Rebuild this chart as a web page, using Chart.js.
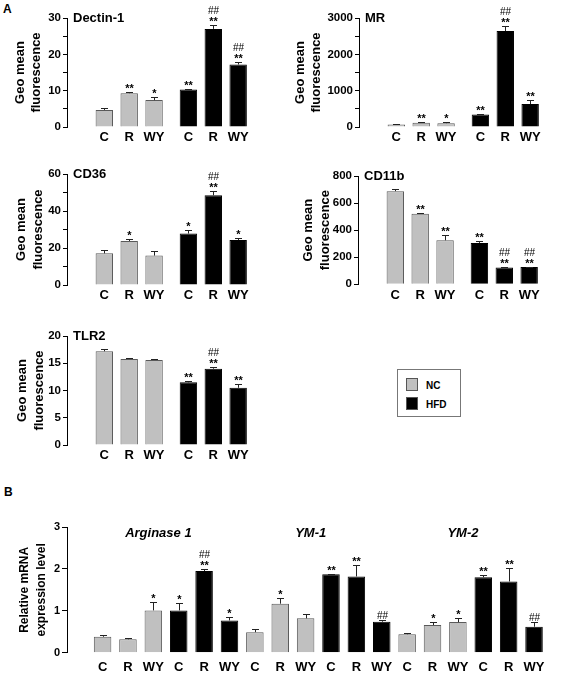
<!DOCTYPE html>
<html>
<head>
<meta charset="utf-8">
<script src="https://cdn.jsdelivr.net/npm/chart.js@4.4.0/dist/chart.umd.min.js"></script>
<style>
  body { margin: 0; background: #fff; }
  #fig { position: relative; width: 563px; height: 676px; font-family: 'Liberation Sans', Arial, sans-serif; }
  #fig canvas { position: absolute; }
  .lbl { position: absolute; font-weight: bold; font-size: 12px; line-height: 12px; }
  #legend { position: absolute; left: 397px; top: 369px; width: 62px; height: 46px; border: 1px solid #777; }
  #legend .sw { position: absolute; left: 8px; width: 10px; height: 11px; border: 1px solid #555; }
  #legend .tx { position: absolute; left: 28px; font-size: 10px; font-weight: bold; line-height: 12px; }
</style>
</head>
<body>
<div id="fig">
  <div class="lbl" style="left:3px;top:3px">A</div>
  <div class="lbl" style="left:4px;top:486px">B</div>
  <canvas id="dectin" width="280" height="150" style="left:0;top:0"></canvas>
  <canvas id="mr" width="280" height="150" style="left:283px;top:0"></canvas>
  <canvas id="cd36" width="280" height="160" style="left:0;top:150px"></canvas>
  <canvas id="cd11b" width="280" height="160" style="left:283px;top:150px"></canvas>
  <canvas id="tlr2" width="280" height="160" style="left:0;top:310px"></canvas>
  <canvas id="mrna" width="563" height="176" style="left:0;top:500px"></canvas>
  <div id="legend"></div>
</div>
<script>
// groups and treatments
const diets = ['NC', 'HFD'];
const treatments = ['C', 'R', 'WY'];
const genes = ['Arginase 1', 'YM-1', 'YM-2'];

// panel A, order: NC C,R,WY then HFD C,R,WY
const dectinMean = [4.7, 9.3, 7.4, 10.3, 27.0, 17.2];
const dectinErr = [0.5, 0.2, 0.8, 0.2, 1.1, 0.8];
const dectinSig = ['', '**', '*', '**', '**', '**'];
const dectinHash = ['', '', '', '', '##', '##'];

const mrMean = [72, 115, 105, 345, 2640, 630];
const mrErr = [10, 15, 20, 10, 150, 110];
const mrSig = ['', '**', '*', '**', '**', '**'];
const mrHash = ['', '', '', '', '##', ''];

const cd36Mean = [17.1, 23.8, 15.9, 27.8, 48.5, 24.3];
const cd36Err = [1.6, 1.0, 2.4, 1.8, 2.5, 1.3];
const cd36Sig = ['', '*', '', '*', '**', '*'];
const cd36Hash = ['', '', '', '', '##', ''];

const cd11bMean = [688, 522, 325, 306, 124, 128];
const cd11bErr = [15, 3, 38, 12, 3, 3];
const cd11bSig = ['', '**', '**', '**', '**', '**'];
const cd11bHash = ['', '', '', '', '##', '##'];

const tlr2Mean = [17.2, 15.8, 15.6, 11.5, 14.0, 10.5];
const tlr2Err = [0.4, 0.15, 0.1, 0.2, 0.4, 0.7];
const tlr2Sig = ['', '', '', '**', '**', '**'];
const tlr2Hash = ['', '', '', '', '##', ''];

// panel B, per gene: NC C,R,WY then HFD C,R,WY
const argMean = [0.38, 0.32, 1.01, 1.01, 1.95, 0.77];
const argErr = [0.04, 0.04, 0.19, 0.17, 0.05, 0.09];
const argSig = ['', '', '*', '*', '**', '*'];
const argHash = ['', '', '', '', '##', ''];

const ym1Mean = [0.49, 1.17, 0.82, 1.87, 1.82, 0.74];
const ym1Err = [0.07, 0.14, 0.11, 0.02, 0.27, 0.04];
const ym1Sig = ['', '*', '', '**', '**', ''];
const ym1Hash = ['', '', '', '', '', '##'];

const ym2Mean = [0.44, 0.66, 0.73, 1.80, 1.70, 0.62];
const ym2Err = [0.02, 0.07, 0.09, 0.06, 0.33, 0.12];
const ym2Sig = ['', '*', '*', '**', '**', ''];
const ym2Hash = ['', '', '', '', '', '##'];

const FONT = "'Liberation Sans', Arial, sans-serif";
Chart.defaults.font.family = FONT;
Chart.defaults.color = '#000';

const GRAY = '#c0c0c0';
const GROUP_GAP = 0.38;

// legend box
const legend = document.getElementById('legend');
diets.forEach((d, i) => {
  legend.innerHTML += '<div class="sw" style="top:' + (8 + i * 19) + 'px;background:' + (i ? '#000' : GRAY) + '"></div>' +
    '<div class="tx" style="top:' + (10 + i * 19) + 'px">' + d + '</div>';
});

// error bars, significance marks and titles
const marks = {
  id: 'marks',
  afterDatasetsDraw(chart, args, o) {
    const ctx = chart.ctx;
    const y = chart.scales.y;
    const bars = chart.getDatasetMeta(0).data;
    ctx.save();
    bars.forEach((bar, i) => {
      const top = Math.round(y.getPixelForValue(o.mean[i] + o.err[i])) + 0.5;
      const cx = Math.round(bar.x) + 0.5;
      ctx.strokeStyle = '#222';
      ctx.lineWidth = 1;
      ctx.beginPath();
      ctx.moveTo(cx, bar.y);
      ctx.lineTo(cx, top);
      ctx.moveTo(cx - 3.5, top);
      ctx.lineTo(cx + 3.5, top);
      ctx.stroke();
      ctx.fillStyle = '#000';
      ctx.textAlign = 'center';
      ctx.textBaseline = 'alphabetic';
      let ty = top - 1;
      if (o.sig[i]) {
        ctx.font = 'bold 11px ' + FONT;
        ctx.fillText(o.sig[i], cx, ty);
        ty -= 11;
      } else {
        ty -= 1;
      }
      if (o.hash[i]) {
        ctx.font = '10px ' + FONT;
        ctx.fillText(o.hash[i], cx, ty);
      }
    });
    if (o.title) {
      ctx.font = 'bold 13px ' + FONT;
      ctx.textAlign = 'left';
      ctx.textBaseline = 'middle';
      ctx.fillText(o.title, chart.chartArea.left + 6, chart.chartArea.top);
    }
    if (o.groupNames) {
      ctx.font = 'italic bold 13px ' + FONT;
      ctx.textAlign = 'center';
      ctx.textBaseline = 'middle';
      o.groupNames.forEach((g, gi) => {
        ctx.fillText(g, chart.scales.x.getPixelForValue(o.groupX[gi]), chart.chartArea.top + 6);
      });
    }
    ctx.restore();
  }
};

function barChart(id, o) {
  return new Chart(document.getElementById(id), {
    type: 'bar',
    data: {
      datasets: [{
        data: o.x.map((x, i) => ({ x: x, y: o.mean[i] })),
        backgroundColor: o.colors,
        borderColor: o.colors.map(c => c === GRAY ? '#5a5a5a' : '#000'),
        borderWidth: 1,
        barPercentage: o.barPct,
        categoryPercentage: 1
      }]
    },
    options: {
      responsive: false,
      animation: false,
      layout: { padding: { left: 0, top: o.top, right: o.right, bottom: 0 } },
      plugins: {
        legend: { display: false },
        tooltip: { enabled: false },
        marks: { mean: o.mean, err: o.err, sig: o.sig, hash: o.hash, title: o.title, groupNames: o.groupNames, groupX: o.groupX }
      },
      scales: {
        x: {
          type: 'linear',
          min: o.xMin,
          max: o.xMax,
          grid: { display: false, drawTicks: false },
          border: { display: false },
          afterBuildTicks: s => { s.ticks = o.x.map(v => ({ value: v })); },
          afterFit: s => { s.height = o.xHeight; },
          ticks: {
            autoSkip: false, maxRotation: 0, padding: o.xPad,
            font: { size: 13, weight: 'bold' },
            callback: (v, i) => o.labels[i]
          }
        },
        y: {
          min: 0,
          max: o.max,
          afterFit: s => { s.width = o.yWidth; },
          border: { display: true, color: '#000', width: 1 },
          grid: { drawOnChartArea: false, drawTicks: true, tickLength: o.tickLen, color: '#000' },
          ticks: {
            stepSize: o.step, padding: 2,
            font: { size: o.tickSize, weight: 'bold' },
            callback: v => (Math.round(v / o.step) % o.labelEvery === 0 ? String(v) : '')
          },
          title: {
            display: true, text: o.yTitle, color: '#000',
            font: { size: o.titleSize, weight: 'bold', lineHeight: o.titleLH },
            padding: { top: o.titlePad, bottom: 0 }
          }
        }
      }
    },
    plugins: [marks]
  });
}

// panel A positions and labels
const xA = [], labelsA = [], colorsA = [];
diets.forEach((d, di) => treatments.forEach((t, ti) => {
  xA.push(di * (treatments.length + GROUP_GAP) + ti);
  labelsA.push(t);
  colorsA.push(di ? '#000' : GRAY);
}));

function panelA(id, title, mean, err, sig, hash, max, step, labelEvery, lay) {
  return barChart(id, Object.assign({
    x: xA, labels: labelsA, colors: colorsA, mean, err, sig, hash, title,
    max, step, labelEvery,
    xMin: -0.82, xMax: 5.98, barPct: 0.7, xPad: 3,
    tickLen: 4, tickSize: 11.5,
    yTitle: ['Geo mean', 'fluorescence'], titleSize: 13, titleLH: 1.3
  }, lay));
}

panelA('dectin', 'Dectin-1', dectinMean, dectinErr, dectinSig, dectinHash, 30, 5, 2,
  { top: 18, right: 10, yWidth: 67, xHeight: 23, titlePad: 11.5 });
panelA('mr', 'MR', mrMean, mrErr, mrSig, mrHash, 3000, 500, 2,
  { top: 18, right: 1, yWidth: 76, xHeight: 23, titlePad: 8.5 });
panelA('cd36', 'CD36', cd36Mean, cd36Err, cd36Sig, cd36Hash, 60, 10, 2,
  { top: 24, right: 10, yWidth: 67, xHeight: 25, titlePad: 13 });
panelA('cd11b', 'CD11b', cd11bMean, cd11bErr, cd11bSig, cd11bHash, 800, 100, 2,
  { top: 26, right: 2, yWidth: 75, xHeight: 25.7, titlePad: 17 });
panelA('tlr2', 'TLR2', tlr2Mean, tlr2Err, tlr2Sig, tlr2Hash, 20, 5, 1,
  { top: 26, right: 10, yWidth: 67, xHeight: 25, titlePad: 14 });

// panel B
const xB = [], labelsB = [], colorsB = [];
genes.forEach((g, gi) => diets.forEach((d, di) => treatments.forEach((t, ti) => {
  xB.push(gi * diets.length * treatments.length + di * treatments.length + ti);
  labelsB.push(t);
  colorsB.push(di ? '#000' : GRAY);
})));

barChart('mrna', {
  x: xB, labels: labelsB, colors: colorsB,
  mean: argMean.concat(ym1Mean, ym2Mean),
  err: argErr.concat(ym1Err, ym2Err),
  sig: argSig.concat(ym1Sig, ym2Sig),
  hash: argHash.concat(ym1Hash, ym2Hash),
  groupNames: genes,
  groupX: genes.map((g, gi) => gi * diets.length * treatments.length + 2.2),
  max: 3, step: 1, labelEvery: 1,
  xMin: -0.86, xMax: 17.56, barPct: 0.69, xPad: 7,
  top: 27, right: 1, yWidth: 67, xHeight: 23.3,
  tickLen: 5, tickSize: 11,
  yTitle: ['Relative mRNA', 'expression level'], titleSize: 12, titleLH: 1.4, titlePad: 16.5
});
</script>
</body>
</html>
